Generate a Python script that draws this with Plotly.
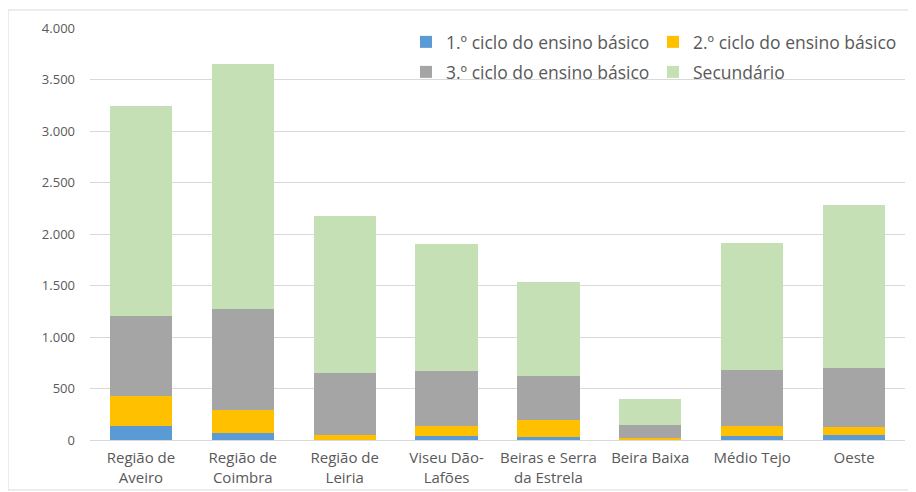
import plotly.graph_objects as go

categories = ["Região de<br>Aveiro", "Região de<br>Coimbra", "Região de<br>Leiria",
              "Viseu Dão-<br>Lafões", "Beiras e Serra<br>da Estrela", "Beira Baixa",
              "Médio Tejo", "Oeste"]
ciclo1 = [139, 71, 3, 39, 29, 8, 42, 51]
ciclo2 = [291, 220, 48, 100, 168, 14, 97, 75]
ciclo3 = [774, 981, 599, 531, 424, 124, 541, 573]
secundario = [2036, 2378, 1525, 1233, 913, 252, 1233, 1583]

series = [
    ("1.º ciclo do ensino básico", ciclo1, "#5B9BD5", "legend"),
    ("2.º ciclo do ensino básico", ciclo2, "#FFC000", "legend"),
    ("3.º ciclo do ensino básico", ciclo3, "#A5A5A5", "legend2"),
    ("Secundário", secundario, "#C5E0B4", "legend2"),
]

W, H = 908, 484  # page body has an 8px margin
L, R, T, B = 82, 11, 20, 52
pw, ph = W - L - R, H - T - B

fig = go.Figure()
for name, vals, col, lg in series:
    fig.add_trace(go.Bar(x=categories, y=vals, name=name, legend=lg,
                         marker=dict(color=col, line=dict(width=0))))

leg_common = dict(orientation="h", xref="container", yref="container",
                  xanchor="left", yanchor="middle",
                  font=dict(family="Open Sans", size=17.5, color="#595959"),
                  entrywidth=202, entrywidthmode="pixels", traceorder="normal",
                  bgcolor="rgba(255,255,255,0)", itemclick=False, itemdoubleclick=False)

fig.update_layout(
    barmode="stack",
    bargap=0.39,
    width=W, height=H,
    margin=dict(l=L, r=R, t=T, b=B, autoexpand=False),
    paper_bgcolor="white", plot_bgcolor="white",
    separators=",.",
    font=dict(family="Open Sans", size=13, color="#595959"),
    legend=dict(leg_common, x=398 / W, y=1 - 34 / H),
    legend2=dict(leg_common, x=398 / W, y=1 - 64 / H),
    xaxis=dict(showline=True, linecolor="#d9d9d9", ticks="", tickfont=dict(size=15),
               ticklabelstandoff=4),
    yaxis=dict(range=[0, 4000], dtick=500, tickformat=",d", gridcolor="#d9d9d9",
               zeroline=False, showline=False, tickfont=dict(size=13), ticks="",
               ticklabelstandoff=14),
    shapes=[dict(type="rect", xref="paper", yref="paper",
                 x0=(0 - L) / pw, x1=(906 - L) / pw,
                 y0=-(482 - (H - B)) / ph, y1=(H - B - 2) / ph,
                 line=dict(color="#d9d9d9", width=1), fillcolor="rgba(0,0,0,0)", layer="below")],
)

fig.write_html("out.html")
